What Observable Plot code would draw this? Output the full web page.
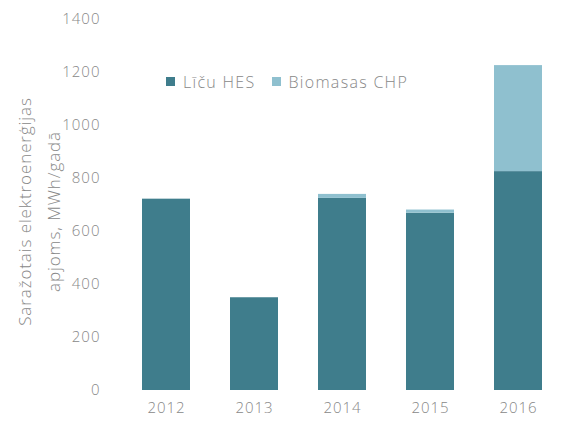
<!DOCTYPE html>
<html>
<head>
<meta charset="utf-8">
<script src="https://cdn.jsdelivr.net/npm/d3@7"></script>
<script src="https://cdn.jsdelivr.net/npm/@observablehq/plot@0.6"></script>
<style>
  html, body { margin: 0; padding: 0; background: #fff; }
  #wrap { position: relative; width: 565px; height: 426px; font-family: "Open Sans", sans-serif; }
  #legend { position: absolute; left: 166px; top: 65px; }
  #legend div, #legend span { font-size: 16px; color: #888; font-weight: 300; letter-spacing: 1.3px; }
  svg text { font-weight: 300; }
</style>
</head>
<body>
<div id="wrap"><div id="legend"></div></div>
<script>
const years = ["2012", "2013", "2014", "2015", "2016"];
const series = ["Līču HES", "Biomasas CHP"];
const hesValues = [722, 350, 725, 669, 826];
const chpValues = [0, 0, 15, 12, 400];
const colors = ["#3f7d8c", "#8fc0cf"];
const yTicks = [0, 200, 400, 600, 800, 1000, 1200, 1400];
const yTitle = ["Saražotais elektroenerģijas", "apjoms, MWh/gadā"];

const data = [];
years.forEach((y, i) => {
  data.push({year: y, series: series[0], value: hesValues[i]});
  data.push({year: y, series: series[1], value: chpValues[i]});
});

const chart = Plot.plot({
  width: 565,
  height: 426,
  marginTop: 19,
  marginBottom: 36,
  marginLeft: 124,
  marginRight: 5,
  style: {fontFamily: "'Open Sans', sans-serif", fontSize: "15px", color: "#888", background: "#fff", letterSpacing: "1px"},
  x: {domain: years, paddingInner: 0.45, paddingOuter: 0.2, label: null, tickSize: 0, tickPadding: 12},
  y: {domain: [0, 1400], ticks: yTicks, tickFormat: d3.format("d"), label: null, tickSize: 0, tickPadding: 24},
  color: {domain: series, range: colors},
  marks: [
    Plot.barY(data, Plot.stackY({x: "year", y: "value", fill: "series", order: series})),
    Plot.text(yTitle, {
      text: d => d,
      frameAnchor: "left",
      fontSize: 17,
      fill: "#888",
      textAnchor: "middle",
      lineAnchor: "bottom"
    })
  ]
});
const texts = chart.querySelectorAll("g[aria-label='text'] text");
const xs = [30, 59];
texts.forEach((t, i) => {
  t.setAttribute("transform", `translate(${xs[i]},211) rotate(-90)`);
  t.setAttribute("x", 0);
  t.setAttribute("y", 0);
  t.setAttribute("dy", 0);
  t.style.letterSpacing = "0.9px";
});
document.getElementById("wrap").prepend(chart);

const legend = Plot.legend({
  color: {domain: series, range: colors},
  swatchSize: 9,
  swatchWidth: 9,
  swatchHeight: 9,
  style: {fontFamily: "'Open Sans', sans-serif", fontSize: "16px", color: "#888"}
});
document.getElementById("legend").appendChild(legend);
</script>
</body>
</html>
